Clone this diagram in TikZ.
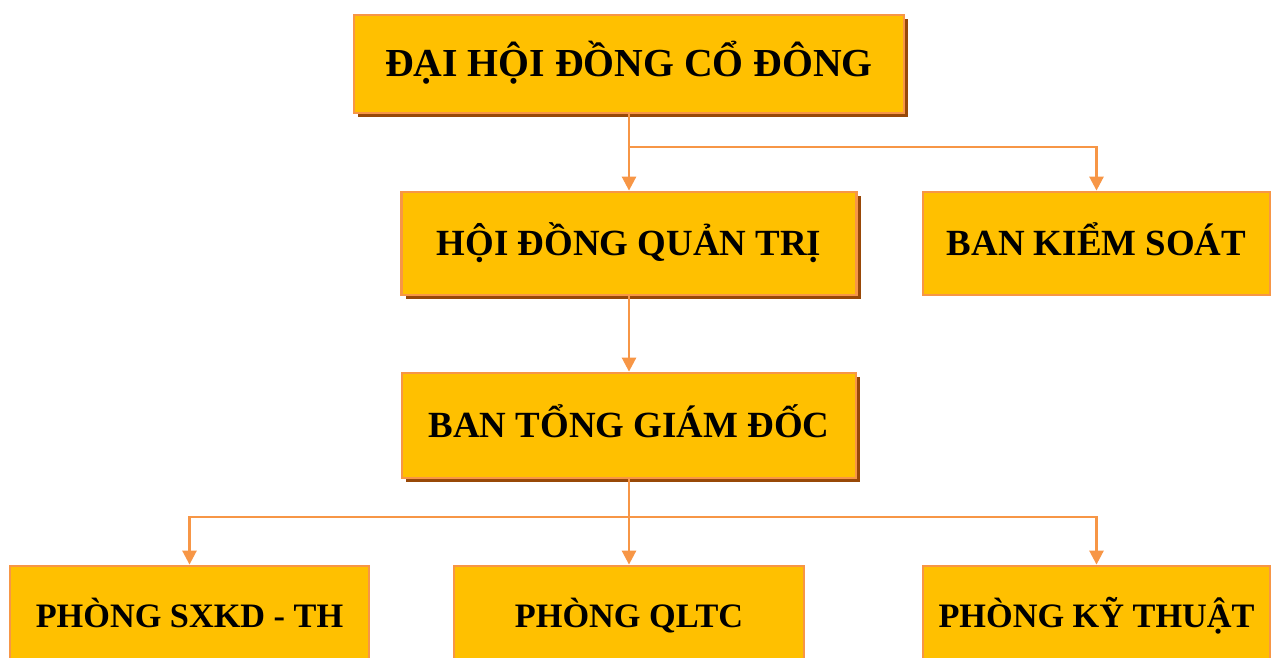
\documentclass[tikz,border=0pt]{standalone}
\usepackage{fontspec}
\setmainfont{Liberation Serif}
\usetikzlibrary{arrows.meta,shadows}
\definecolor{boxfill}{HTML}{FFC000}
\definecolor{boxline}{HTML}{F79646}
\definecolor{shadowbrown}{HTML}{984807}
\tikzset{
  box/.style={rectangle,draw=boxline,line width=1.6pt,fill=boxfill,inner sep=0pt,
    text height=18pt,text depth=4pt,
    font=\bfseries\fontsize{21}{25}\selectfont},
  dept/.style={box,minimum height=1.96cm,font=\bfseries\fontsize{19.5}{23}\selectfont},
  shadowed/.style={general shadow={fill=shadowbrown,shadow xshift=2.4pt,shadow yshift=-2.4pt}},
  conn/.style={draw=boxline,line width=1.5pt,-{Triangle[width=8pt,length=8pt]}}
}
\begin{document}
\begin{tikzpicture}[x=0.02cm,y=-0.02cm]
\useasboundingbox (0,0) rectangle (1273,657);
\clip (0,0) rectangle (1273,657);
% upper levels
\node [box,shadowed,minimum width=11cm,minimum height=1.96cm,
  font=\bfseries\fontsize{22.6}{27}\selectfont] (dhdcd) at (629,64) {ĐẠI HỘI ĐỒNG CỔ ĐÔNG};
\node [box,shadowed,minimum width=9.1cm,minimum height=2.06cm] (hdqt) at (629,243.5) {HỘI ĐỒNG QUẢN TRỊ};
\node [box,minimum width=6.94cm,minimum height=2.06cm] (bks) at (1096.5,243.5) {BAN KIỂM SOÁT};
\node [box,shadowed,minimum width=9.08cm,minimum height=2.1cm] (btgd) at (629,425.5) {BAN TỔNG GIÁM ĐỐC};
% departments
\node [dept,minimum width=7.18cm] (psxkd) at (189.5,615) {PHÒNG SXKD - TH};
\node [dept,minimum width=7cm] (pqltc) at (629,615) {PHÒNG QLTC};
\node [dept,minimum width=6.94cm] (pkt) at (1096.5,615) {PHÒNG KỸ THUẬT};
% connectors
\coordinate (b1) at (629,147);
\coordinate (b2) at (629,517);
\draw [conn] (dhdcd.south) -- (hdqt.north);
\draw [conn] (b1) -| (bks.north);
\draw [conn] (hdqt.south) -- (btgd.north);
\draw [conn] (btgd.south) -- (pqltc.north);
\draw [conn] (b2) -| (psxkd.north);
\draw [conn] (b2) -| (pkt.north);
\end{tikzpicture}
\end{document}
